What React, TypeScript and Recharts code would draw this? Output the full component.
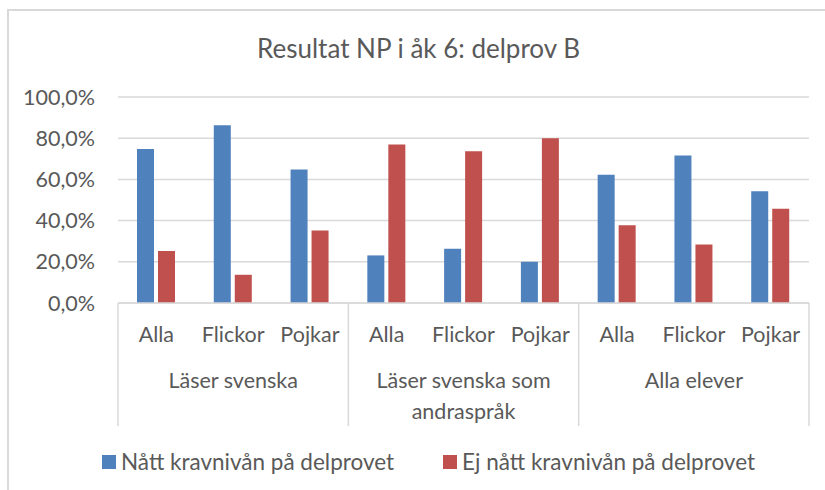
import React from 'react';
import { BarChart, Bar, XAxis, YAxis, CartesianGrid } from 'recharts';

const title = 'Resultat NP i åk 6: delprov B';
const categories = ['Alla', 'Flickor', 'Pojkar', 'Alla', 'Flickor', 'Pojkar', 'Alla', 'Flickor', 'Pojkar'];
const groupLabels = [['Läser svenska'], ['Läser svenska som', 'andraspråk'], ['Alla elever']];
const seriesNames = ['Nått kravnivån på delprovet', 'Ej nått kravnivån på delprovet'];
const nattValues = [74.8, 86.3, 64.8, 23.1, 26.3, 20.0, 62.3, 71.6, 54.2];
const ejNattValues = [25.2, 13.7, 35.2, 76.9, 73.7, 80.0, 37.7, 28.4, 45.8];
const yTicks = [0, 20, 40, 60, 80, 100];

const colors = ['#4F81BD', '#C0504D'];
const textColor = '#595959';
const lineColor = '#D9D9D9';
const font = 'Lato, "Noto Sans", sans-serif';
const axisFontSize = 21.5;

const data = categories.map((c, i) => ({
  id: `${Math.floor(i / 3)}-${i}`,
  natt: nattValues[i],
  ej: ejNattValues[i],
}));

const fmt = (v: number) => v.toFixed(1).replace('.', ',') + '%';

const CategoryTick = (props: any) => {
  const { x, y, payload, index } = props;
  const half = payload && payload.offset ? payload.offset : 0;
  const items: any[] = [];
  items.push(
    <text key="c" x={x} y={y + 39} textAnchor="middle" fill={textColor} fontSize={axisFontSize} fontFamily={font}>
      {categories[index]}
    </text>
  );
  if (index % 3 === 0) {
    items.push(<line key="l" x1={x - half} x2={x - half} y1={y} y2={y + 123} stroke={lineColor} strokeWidth={1.5} />);
  }
  if (index === categories.length - 1) {
    items.push(<line key="r" x1={x + half} x2={x + half} y1={y} y2={y + 123} stroke={lineColor} strokeWidth={1.5} />);
  }
  if (index % 3 === 1) {
    const g = groupLabels[Math.floor(index / 3)];
    g.forEach((line, k) => {
      items.push(
        <text key={'g' + k} x={x} y={y + 85 + k * 31} textAnchor="middle" fill={textColor} fontSize={axisFontSize} fontFamily={font}>
          {line}
        </text>
      );
    });
  }
  return <g>{items}</g>;
};

export default function App() {
  return (
    <div style={{ position: 'absolute', left: 0, top: 0, width: 825, height: 490, overflow: 'hidden', background: '#fff' }}>
      <div style={{ position: 'absolute', left: 7, top: 9, width: 840, height: 520, border: `2px solid ${lineColor}`, boxSizing: 'border-box' }} />
      <div style={{ position: 'absolute', left: 0, top: 33, width: 837, textAlign: 'center', fontFamily: font, fontSize: 26, color: textColor, lineHeight: '30px' }}>
        {title}
      </div>
      <div style={{ position: 'absolute', left: 0, top: 0 }}>
        <BarChart width={825} height={490} data={data} margin={{ top: 97, right: 16, left: 48, bottom: 57 }} barSize={17} barGap={4}>
          <CartesianGrid vertical={false} stroke={lineColor} strokeWidth={1.5} />
          <YAxis
            domain={[0, 100]}
            ticks={yTicks}
            width={70}
            axisLine={false}
            tickLine={false}
            tickSize={0}
            tickMargin={23}
            tickFormatter={fmt}
            tick={{ fill: textColor, fontSize: axisFontSize, fontFamily: font }}
          />
          <XAxis
            dataKey="id"
            height={130}
            axisLine={{ stroke: lineColor, strokeWidth: 1.5 }}
            tickLine={false}
            tickSize={0}
            tickMargin={0}
            interval={0}
            tick={<CategoryTick />}
          />
          <Bar dataKey="natt" name={seriesNames[0]} fill={colors[0]} isAnimationActive={false} />
          <Bar dataKey="ej" name={seriesNames[1]} fill={colors[1]} isAnimationActive={false} />
        </BarChart>
      </div>
      <div style={{ position: 'absolute', left: 102, top: 447, display: 'flex', alignItems: 'center', fontFamily: font, fontSize: 22.5, color: textColor, lineHeight: '30px' }}>
        {seriesNames.map((n, i) => (
          <div key={n} style={{ display: 'flex', alignItems: 'center', marginRight: i === 0 ? 49 : 0 }}>
            <span style={{ display: 'inline-block', width: 14, height: 14, background: colors[i], marginRight: 5 }} />
            <span>{n}</span>
          </div>
        ))}
      </div>
    </div>
  );
}
